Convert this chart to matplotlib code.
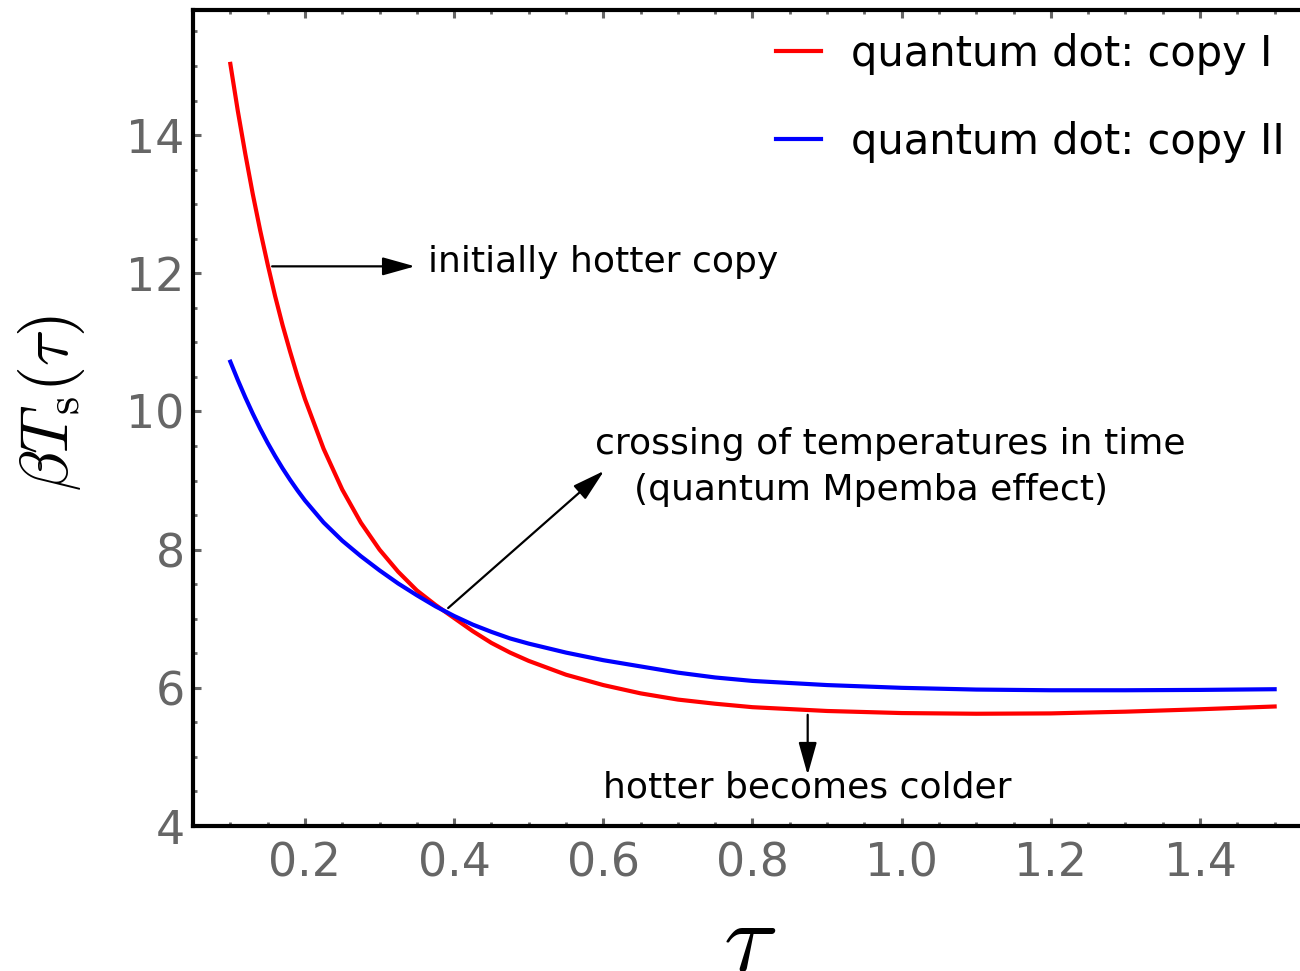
import numpy as np
import matplotlib.pyplot as plt
from matplotlib.ticker import MultipleLocator

plt.rcParams['mathtext.fontset'] = 'cm'

tau = [0.100, 0.110, 0.120, 0.130, 0.140, 0.150, 0.160, 0.170, 0.180, 0.190,
       0.200, 0.225, 0.250, 0.275, 0.300, 0.325, 0.350, 0.375, 0.400, 0.425,
       0.450, 0.475, 0.500, 0.550, 0.600, 0.650, 0.700, 0.750, 0.800, 0.900,
       1.000, 1.100, 1.200, 1.300, 1.400, 1.500]
temp_copy1 = [15.03, 14.35, 13.73, 13.15, 12.62, 12.13, 11.67, 11.25, 10.87, 10.51,
              10.18, 9.46, 8.87, 8.39, 8.00, 7.68, 7.41, 7.20, 7.01, 6.82,
              6.65, 6.51, 6.39, 6.19, 6.04, 5.92, 5.83, 5.77, 5.72, 5.665,
              5.635, 5.625, 5.63, 5.655, 5.69, 5.73]
temp_copy2 = [10.72, 10.455, 10.205, 9.97, 9.75, 9.545, 9.355, 9.177, 9.012, 8.857,
              8.712, 8.393, 8.13, 7.905, 7.70, 7.51, 7.34, 7.18, 7.04, 6.915,
              6.81, 6.715, 6.64, 6.51, 6.40, 6.31, 6.22, 6.15, 6.10, 6.04,
              6.00, 5.975, 5.965, 5.965, 5.97, 5.98]
labels = ["quantum dot: copy I", "quantum dot: copy II"]

fig = plt.figure(figsize=(13, 9.71), dpi=100)
ax = fig.add_axes([0.1485, 0.1493, 0.8515, 0.8404])

ax.plot(tau, temp_copy1, color='#ff0000', lw=3, label=labels[0])
ax.plot(tau, temp_copy2, color='#0000ff', lw=3, label=labels[1])

ax.set_xlim(0.05, 1.534)
ax.set_ylim(4, 15.81)
ax.xaxis.set_minor_locator(MultipleLocator(0.05))
ax.yaxis.set_major_locator(MultipleLocator(2))
ax.yaxis.set_minor_locator(MultipleLocator(0.5))
ax.set_xticks([0.2, 0.4, 0.6, 0.8, 1.0, 1.2, 1.4])
ax.set_xticklabels(['0.2', '0.4', '0.6', '0.8', '1.0', '1.2', '1.4'])

for side in ['left', 'bottom', 'top']:
    ax.spines[side].set_linewidth(3)
ax.spines['right'].set_visible(False)
ax.tick_params(which='both', direction='in', color='#666666', top=True,
               labelcolor='#666666', labelsize=33)
ax.tick_params(which='major', length=6, width=2.2)
ax.tick_params(which='minor', length=3, width=2)
ax.tick_params(axis='x', pad=11)
ax.tick_params(axis='y', pad=6)

ax.set_xlabel(r'$\tau$', fontsize=72, va='top')
ax.xaxis.set_label_coords(0.503, -0.085)
ax.set_ylabel(r'$\beta T_{\rm s}(\tau)$', fontsize=48, va='center', ha='center')
ax.yaxis.set_label_coords(-0.128, 0.518)

arrow = dict(arrowstyle='-|>,head_length=1.0,head_width=0.28', color='black',
             lw=1.6, mutation_scale=20, shrinkA=0, shrinkB=0)
ax.annotate('', xy=(0.3475, 12.10), xytext=(0.156, 12.10), arrowprops=arrow)
ax.text(0.365, 12.16, 'initially hotter copy', fontsize=26, ha='left', va='center')

ax.annotate('', xy=(0.601, 9.14), xytext=(0.392, 7.155), arrowprops=arrow)
ax.text(0.9844, 9.528, 'crossing of temperatures in time', fontsize=26,
        ha='center', va='center')
ax.text(0.959, 8.862, '(quantum Mpemba effect)', fontsize=26,
        ha='center', va='center')

ax.annotate('', xy=(0.874, 4.74), xytext=(0.874, 5.61), arrowprops=arrow)
ax.text(0.874, 4.564, 'hotter becomes colder', fontsize=26, ha='center', va='center')

ax.legend(loc='upper left', bbox_to_anchor=(0.527, 0.972), frameon=False,
          fontsize=30, handlelength=1.08, handletextpad=0.7, labelspacing=1.1,
          borderpad=0, borderaxespad=0)

fig.savefig('out.png', dpi=100)
